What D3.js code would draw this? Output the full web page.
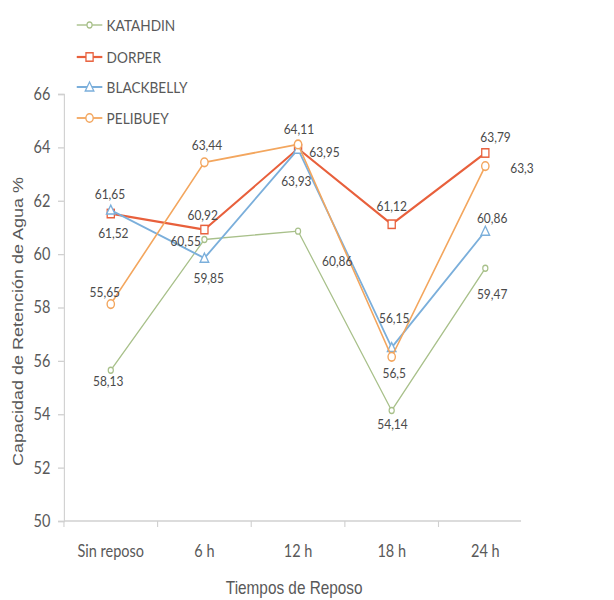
<!DOCTYPE html>
<html>
<head>
<meta charset="utf-8">
<script src="https://cdn.jsdelivr.net/npm/d3@7"></script>
<style>
  html, body { margin: 0; padding: 0; background: #fff; overflow: hidden; }
  svg { display: block; }
</style>
</head>
<body>
<svg id="chart" width="614" height="600" viewBox="0 0 720 600" preserveAspectRatio="none"></svg>
<script>
// ---- DATA ----
const categories = ["Sin reposo", "6 h", "12 h", "18 h", "24 h"];
const yTicks = [50, 52, 54, 56, 58, 60, 62, 64, 66];
const seriesNames = ["KATAHDIN", "DORPER", "BLACKBELLY", "PELIBUEY"];
const katahdin   = [55.65, 60.55, 60.86, 54.14, 59.47];
const dorper     = [61.52, 60.92, 63.95, 61.12, 63.79];
const blackbelly = [61.65, 59.85, 63.93, 56.5, 60.86];
const pelibuey   = [58.13, 63.44, 64.11, 56.15, 63.3];
const xTitle = "Tiempos de Reposo";
const yTitle = "Capacidad de Retención de Agua %";

// ---- LAYOUT / STYLE ----
const svg = d3.select("#chart");
const pLeft = 75, pRight = 624, pTop = 94, pBottom = 521, axisEnd = 611;
const x = d3.scaleBand().domain(categories).range([pLeft, pRight]).paddingInner(0).paddingOuter(0);
const y = d3.scaleLinear().domain([50, 66]).range([pBottom, pTop]);

const styles = {
  KATAHDIN:   { color: "#a8c08a", width: 1.4, marker: "smallcircle" },
  DORPER:     { color: "#e8603c", width: 2.2, marker: "square" },
  BLACKBELLY: { color: "#7bafdb", width: 2.0, marker: "triangle" },
  PELIBUEY:   { color: "#f3a65e", width: 1.8, marker: "circle" }
};
// label offsets (dx, dy) relative to each point, px
const labelOffsets = {
  KATAHDIN:   [[-7, -79], [-22, 1], [46, 29], [1, 13], [8, 25]],
  DORPER:     [[3, 19], [-2, -15], [31, 3], [0, -19], [12, -16]],
  BLACKBELLY: [[-1, -16], [5, 20], [-2, 31], [3, 25], [8, -14]],
  PELIBUEY:   [[-3, 77], [3, -18], [1, -16], [3, -39], [43, 2]]
};

const seriesData = { KATAHDIN: katahdin, DORPER: dorper, BLACKBELLY: blackbelly, PELIBUEY: pelibuey };
const axisGray = "#d0d0d0";
const textGray = "#595959";

// ---- AXES ----
const yAxis = d3.axisLeft(y).tickValues(yTicks).tickSize(7).tickPadding(9).tickFormat(d3.format("d"));
const gy = svg.append("g").attr("transform", `translate(${pLeft},0)`).call(yAxis);
gy.select(".domain").attr("stroke", axisGray).attr("stroke-width", 1.3);
gy.selectAll(".tick line").attr("stroke", axisGray).attr("stroke-width", 1.3);
gy.selectAll(".tick text").attr("fill", textGray).style("font-family", "Lato, 'Open Sans', sans-serif").style("font-size", "17px");

const xAxis = d3.axisBottom(x).tickSize(0).tickPadding(24);
const gx = svg.append("g").attr("transform", `translate(0,${pBottom})`).call(xAxis);
gx.select(".domain").remove();
gx.append("line").attr("x1", pLeft).attr("x2", axisEnd).attr("y1", 0).attr("y2", 0)
  .attr("stroke", axisGray).attr("stroke-width", 1.3);
gx.selectAll(".tick text").attr("fill", textGray).style("font-family", "Lato, 'Open Sans', sans-serif").style("font-size", "17px");
// tick marks at category boundaries
const boundaries = categories.map(c => x(c));
svg.append("g").selectAll("line").data(boundaries).join("line")
  .attr("x1", d => d).attr("x2", d => d)
  .attr("y1", pBottom).attr("y2", pBottom + 6)
  .attr("stroke", axisGray).attr("stroke-width", 1.3);

// axis titles
svg.append("text").attr("x", 345).attr("y", 594).attr("text-anchor", "middle")
  .attr("fill", textGray).style("font-family", "'Liberation Sans', Arial, sans-serif").style("font-size", "18px")
  .text(xTitle);
svg.append("text").attr("transform", `translate(27,${(pTop + pBottom) / 2 + 14}) rotate(-90)`).attr("text-anchor", "middle")
  .attr("fill", textGray).style("font-family", "'Liberation Sans', Arial, sans-serif").style("font-size", "18px")
  .text(yTitle);

// ---- MARKERS ----
function drawMarker(g, type, cx, cy, color) {
  if (type === "circle") {
    g.append("circle").attr("cx", cx).attr("cy", cy).attr("r", 4.3)
      .attr("fill", "#fff").attr("stroke", color).attr("stroke-width", 1.6);
  } else if (type === "smallcircle") {
    g.append("circle").attr("cx", cx).attr("cy", cy).attr("r", 3)
      .attr("fill", "#fff").attr("stroke", color).attr("stroke-width", 1.4);
  } else if (type === "square") {
    g.append("rect").attr("x", cx - 4.2).attr("y", cy - 4.2).attr("width", 8.4).attr("height", 8.4)
      .attr("fill", "#fff").attr("stroke", color).attr("stroke-width", 1.5);
  } else if (type === "triangle") {
    const s = 5;
    g.append("path").attr("d", `M${cx},${cy - s} L${cx + s},${cy + s * 0.8} L${cx - s},${cy + s * 0.8} Z`)
      .attr("fill", "#fff").attr("stroke", color).attr("stroke-width", 1.5);
  }
}

const cxOf = c => x(c) + x.bandwidth() / 2;
const line = d3.line().x((d, i) => cxOf(categories[i])).y(d => y(d));

seriesNames.forEach(name => {
  const st = styles[name];
  const vals = seriesData[name];
  const g = svg.append("g");
  g.append("path").datum(vals).attr("d", line).attr("fill", "none")
    .attr("stroke", st.color).attr("stroke-width", st.width).attr("stroke-linejoin", "round");
  vals.forEach((v, i) => drawMarker(g, st.marker, cxOf(categories[i]), y(v), st.color));
});

// data labels
const labelsG = svg.append("g");
seriesNames.forEach(name => {
  const vals = seriesData[name];
  vals.forEach((v, i) => {
    const off = labelOffsets[name][i];
    labelsG.append("text")
      .attr("x", cxOf(categories[i]) + off[0])
      .attr("y", y(v) + off[1])
      .attr("text-anchor", "middle").attr("dominant-baseline", "central")
      .attr("fill", "#4a4a4a")
      .style("font-family", "Lato, 'Open Sans', sans-serif").style("font-size", "14px")
      .text(String(v).replace(".", ","));
  });
});

// ---- LEGEND ----
const legend = svg.append("g");
const legendY = [25, 57, 87, 118];
seriesNames.forEach((name, i) => {
  const st = styles[name];
  const ly = legendY[i];
  legend.append("line").attr("x1", 90).attr("x2", 120).attr("y1", ly).attr("y2", ly)
    .attr("stroke", st.color).attr("stroke-width", st.width);
  drawMarker(legend, st.marker, 105, ly, st.color);
  legend.append("text").attr("x", 125).attr("y", ly).attr("dominant-baseline", "central")
    .attr("fill", textGray).style("font-family", "Lato, 'Open Sans', sans-serif").style("font-size", "16px")
    .text(name);
});
</script>
</body>
</html>
